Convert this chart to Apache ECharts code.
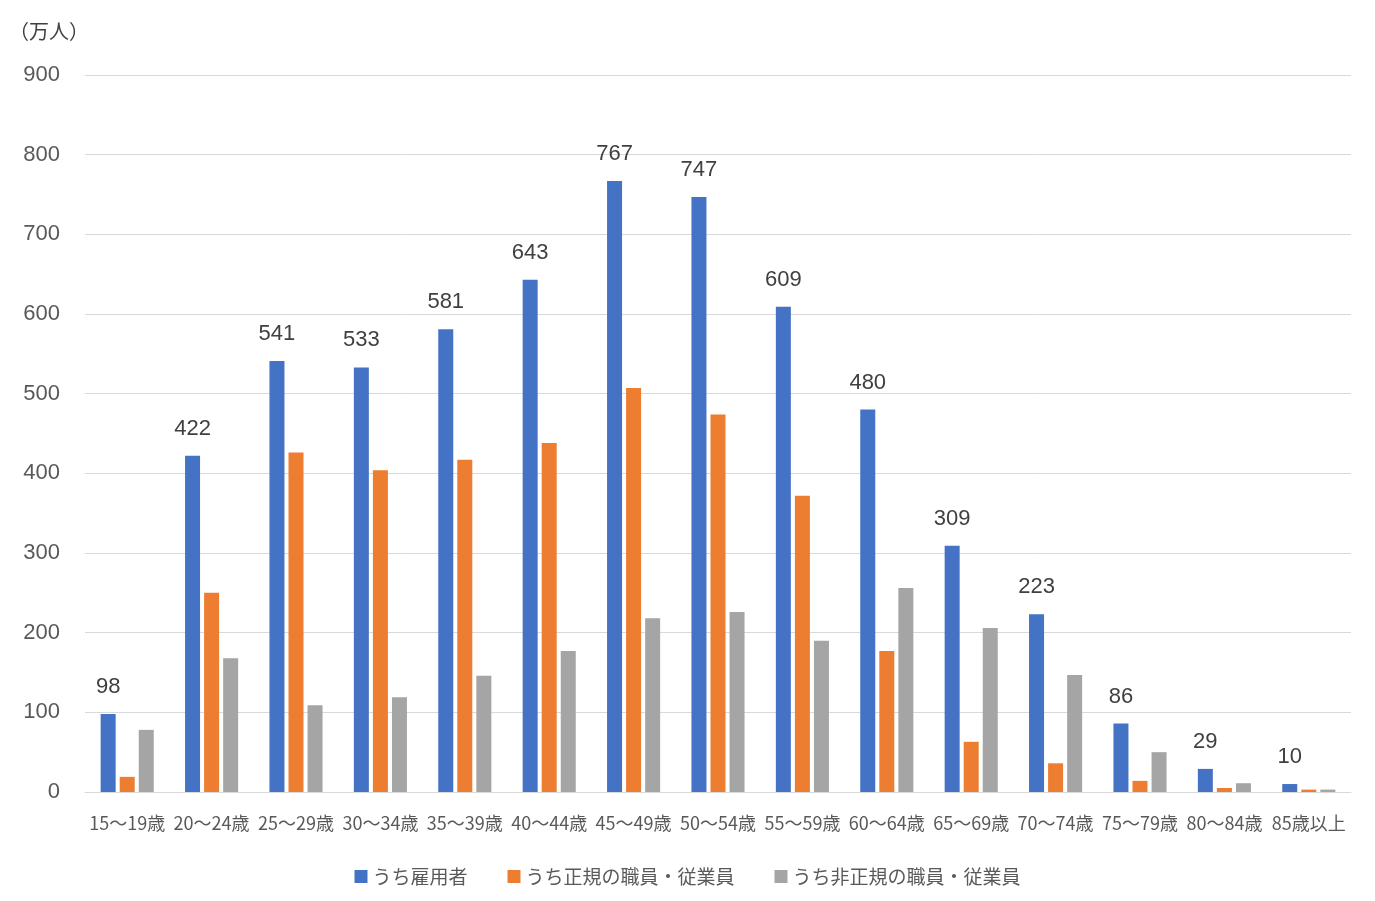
<!DOCTYPE html>
<html>
<head>
<meta charset="utf-8">
<script src="https://cdn.jsdelivr.net/npm/echarts@6/dist/echarts.min.js"></script>
<style>
  html, body { margin: 0; padding: 0; background: #fff; }
  #main { width: 1375px; height: 901px; }
</style>
</head>
<body>
<div id="main"></div>
<script>
// 年齢階級
var categories = ['15～19歳', '20～24歳', '25～29歳', '30～34歳', '35～39歳', '40～44歳', '45～49歳',
    '50～54歳', '55～59歳', '60～64歳', '65～69歳', '70～74歳', '75～79歳', '80～84歳', '85歳以上'];

// 単位：万人
var koyousha = [98, 422, 541, 533, 581, 643, 767, 747, 609, 480, 309, 223, 86, 29, 10];
var seiki = [19, 250, 426, 404, 417, 438, 507, 474, 372, 177, 63, 36, 14, 5, 3];
var hiseiki = [78, 168, 109, 119, 146, 177, 218, 226, 190, 256, 206, 147, 50, 11, 3];

var seriesNames = ['うち雇用者', 'うち正規の職員・従業員', 'うち非正規の職員・従業員'];

var fontJa = '"Noto Sans CJK JP", "Noto Sans", sans-serif';
var fontNum = '"Liberation Sans", Arial, sans-serif';

var chart = echarts.init(document.getElementById('main'));

chart.setOption({
    textStyle: { fontFamily: fontJa },
    color: ['#4472c4', '#ed7d31', '#a5a5a5'],
    title: {
        text: '（万人）',
        left: 4,
        top: 16,
        textStyle: { fontSize: 20, fontWeight: 'normal', color: '#404040', fontFamily: fontJa }
    },
    legend: {
        top: 862,
        left: 'center',
        itemWidth: 13,
        itemHeight: 13,
        itemGap: 40,
        icon: 'rect',
        textStyle: { fontSize: 19, color: '#595959', fontFamily: fontJa },
        data: seriesNames
    },
    grid: { left: 85, right: 24, top: 75, bottom: 109, containLabel: false },
    xAxis: {
        type: 'category',
        data: categories,
        axisTick: { show: false },
        axisLine: { lineStyle: { color: '#d9d9d9' } },
        axisLabel: { fontSize: 18, color: '#595959', margin: 22, interval: 0, fontFamily: fontJa }
    },
    yAxis: {
        type: 'value',
        min: 0,
        max: 900,
        interval: 100,
        axisLine: { show: false },
        axisTick: { show: false },
        splitLine: { lineStyle: { color: '#d9d9d9' } },
        axisLabel: { fontSize: 22, color: '#595959', margin: 25, fontFamily: fontNum }
    },
    series: [
        {
            name: seriesNames[0],
            type: 'bar',
            data: koyousha,
            barWidth: 15,
            barGap: '27%',
            label: {
                show: true,
                position: 'top',
                distance: 16,
                fontSize: 22,
                color: '#404040',
                fontFamily: fontNum
            }
        },
        { name: seriesNames[1], type: 'bar', data: seiki, barWidth: 15, barGap: '27%' },
        { name: seriesNames[2], type: 'bar', data: hiseiki, barWidth: 15, barGap: '27%' }
    ]
});
</script>
</body>
</html>
